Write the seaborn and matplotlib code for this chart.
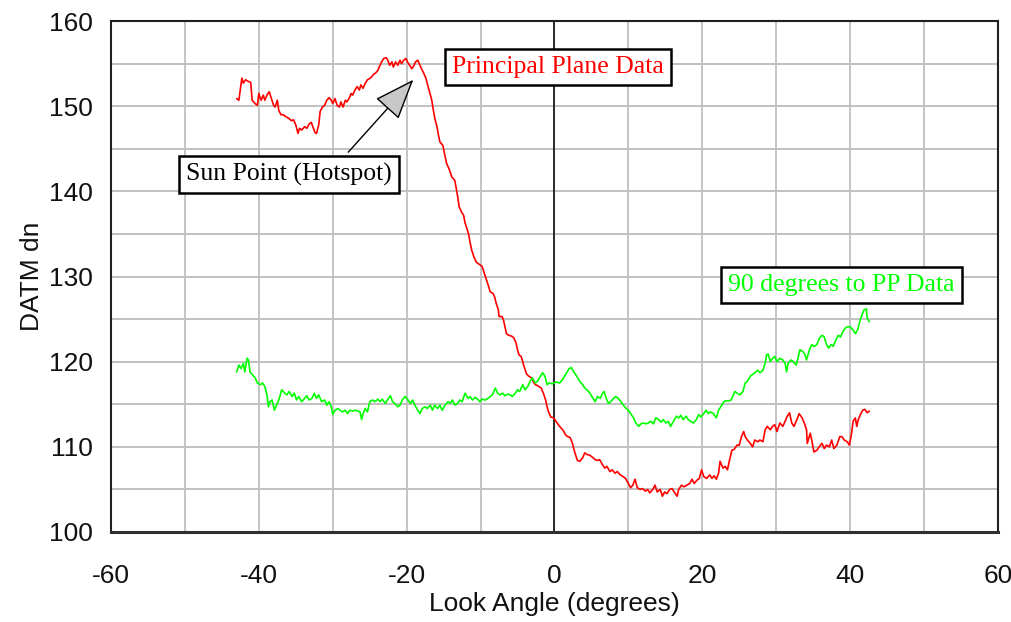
import matplotlib
matplotlib.use("Agg")
import matplotlib.pyplot as plt
import numpy as np
import pandas as pd
import seaborn as sns

# Principal plane scan (look angle in degrees, DATM dn)
pp_angle = [
    -43.0, -42.7, -42.3, -42.1, -41.8, -41.4, -41.1, -40.9, -40.5, -40.2,
    -40.0, -39.7, -39.4, -39.2, -38.9, -38.6, -38.3, -38.0, -37.8, -37.5,
    -37.3, -37.0, -36.7, -36.4, -36.0, -35.6, -35.3, -35.0, -34.7, -34.5,
    -34.2, -33.8, -33.5, -33.2, -32.9, -32.7, -32.4, -32.2, -31.9, -31.7,
    -31.4, -31.1, -30.8, -30.5, -30.2, -30.0, -29.7, -29.4, -29.1, -28.9,
    -28.6, -28.3, -28.1, -27.8, -27.5, -27.3, -27.0, -26.7, -26.4, -26.2,
    -25.9, -25.6, -25.3, -24.9, -24.5, -24.2, -23.9, -23.6, -23.4, -23.1,
    -22.8, -22.6, -22.3, -22.0, -21.8, -21.5, -21.2, -20.9, -20.7, -20.4,
    -20.1, -19.9, -19.6, -19.3, -19.0, -18.8, -18.5, -18.2, -18.0, -17.7,
    -17.4, -17.1, -16.6, -16.4, -16.2, -15.9, -15.7, -15.5, -15.1, -14.9,
    -14.6, -14.2, -13.9, -13.5, -13.3, -13.1, -12.9, -12.6, -12.3, -12.1,
    -11.8, -11.6, -11.4, -11.2, -10.9, -10.6, -10.3, -9.8, -9.5, -9.2,
    -8.9, -8.7, -8.3, -8.1, -7.9, -7.6, -7.5, -7.1, -6.9, -6.7,
    -6.5, -6.2, -5.8, -5.5, -5.2, -5.0, -4.8, -4.5, -4.3, -4.1,
    -3.8, -3.5, -3.1, -2.9, -2.6, -2.3, -1.8, -1.5, -1.2, -1.0,
    -0.8, -0.5, -0.1, 0.2, 0.6, 0.9, 1.2, 1.5, 1.8, 2.1,
    2.4, 2.6, 2.8, 3.1, 3.4, 3.8, 4.1, 4.4, 4.8, 5.1,
    5.5, 5.8, 6.1, 6.5, 6.8, 7.1, 7.5, 7.8, 8.2, 8.5,
    8.9, 9.3, 9.6, 10.0, 10.3, 10.6, 10.9, 11.2, 11.6, 11.9,
    12.3, 12.6, 12.9, 13.3, 13.6, 13.9, 14.3, 14.6, 14.9, 15.2,
    15.6, 15.9, 16.2, 16.6, 16.8, 17.2, 17.5, 17.9, 18.3, 18.6,
    18.9, 19.3, 19.6, 19.9, 20.2, 20.6, 21.0, 21.3, 21.6, 21.9,
    22.2, 22.4, 22.8, 23.1, 23.4, 23.7, 24.0, 24.3, 24.7, 25.0,
    25.3, 25.6, 25.8, 26.1, 26.5, 26.8, 27.1, 27.5, 27.8, 28.2,
    28.5, 28.8, 29.2, 29.5, 29.8, 30.1, 30.5, 30.9, 31.2, 31.5,
    31.8, 32.1, 32.4, 32.8, 33.1, 33.5, 33.8, 34.1, 34.2, 34.6,
    34.8, 35.1, 35.5, 35.8, 36.2, 36.5, 36.8, 37.2, 37.5, 37.8,
    38.2, 38.6, 38.9, 39.2, 39.6, 39.9, 40.2, 40.4, 40.7, 40.9,
    41.1, 41.4, 41.7, 42.0, 42.3, 42.6,
]
pp_dn = [
    150.9, 150.7, 153.3, 152.7, 153.1, 152.9, 152.8, 150.7, 150.3, 150.1,
    151.5, 150.7, 151.3, 150.7, 151.3, 151.7, 150.9, 150.1, 149.9, 150.7,
    149.5, 149.0, 149.0, 148.8, 148.6, 148.3, 148.4, 147.8, 146.8, 147.4,
    147.2, 147.6, 147.4, 147.9, 148.1, 147.6, 146.9, 146.8, 147.8, 149.4,
    149.9, 150.1, 150.7, 151.0, 150.7, 150.3, 150.9, 150.1, 149.9, 150.5,
    149.9, 150.7, 150.5, 150.9, 151.5, 151.3, 151.9, 152.3, 151.9, 152.5,
    152.1, 152.7, 153.1, 153.3, 153.7, 153.9, 154.2, 154.8, 155.2, 155.6,
    155.7, 155.5, 154.8, 155.2, 154.6, 155.2, 154.8, 155.4, 155.0, 155.4,
    155.6, 155.2, 154.8, 154.4, 154.8, 155.2, 155.4, 154.8, 154.4, 153.9,
    153.3, 152.3, 150.7, 149.6, 148.6, 147.6, 146.6, 145.8, 145.4, 144.5,
    143.3, 142.5, 141.7, 141.3, 140.4, 139.4, 138.2, 137.6, 137.2, 136.3,
    135.5, 134.9, 133.9, 133.1, 132.3, 131.7, 131.5, 131.2, 130.4, 129.6,
    128.8, 128.2, 128.0, 127.6, 126.9, 126.1, 125.3, 125.3, 124.9, 124.1,
    123.3, 123.1, 123.0, 122.8, 122.2, 121.4, 120.8, 120.6, 120.0, 119.4,
    118.6, 118.3, 118.1, 117.7, 117.3, 117.2, 116.9, 116.3, 115.5, 114.7,
    114.1, 113.5, 113.4, 113.0, 112.5, 112.2, 111.9, 111.4, 111.2, 111.1,
    110.5, 109.8, 109.2, 108.4, 108.3, 108.7, 109.3, 109.1, 109.0, 108.8,
    108.5, 108.4, 108.5, 107.9, 107.5, 107.7, 107.1, 107.3, 106.9, 107.1,
    106.7, 106.5, 106.3, 105.7, 105.2, 105.5, 106.2, 105.2, 105.0, 105.1,
    104.8, 105.0, 104.6, 105.0, 105.5, 104.7, 105.0, 104.2, 104.7, 104.5,
    105.0, 105.1, 104.7, 104.2, 105.0, 105.5, 105.3, 105.5, 105.7, 106.2,
    105.7, 106.1, 106.3, 107.3, 106.5, 106.3, 106.7, 106.3, 106.6, 106.2,
    106.9, 108.3, 107.5, 107.7, 107.3, 108.5, 109.6, 109.7, 110.2, 110.2,
    111.2, 111.8, 111.2, 110.8, 110.4, 110.0, 110.8, 110.6, 110.8, 110.6,
    112.0, 112.4, 112.0, 112.4, 112.6, 111.8, 112.8, 112.4, 113.0, 113.6,
    114.0, 112.8, 112.4, 113.2, 113.9, 113.4, 112.8, 112.0, 110.4, 111.6,
    110.8, 109.4, 109.6, 110.0, 110.4, 109.8, 110.2, 110.0, 110.8, 109.8,
    110.2, 111.2, 111.2, 110.8, 110.6, 110.2, 111.6, 113.0, 113.4, 112.4,
    113.2, 113.8, 114.3, 114.4, 114.0, 114.2,
]

# Scan at 90 degrees to the principal plane
cross_angle = [
    -43.0, -42.7, -42.4, -42.1, -41.9, -41.6, -41.4, -41.2, -40.9, -40.5,
    -40.2, -39.8, -39.5, -39.2, -38.9, -38.7, -38.5, -38.2, -37.9, -37.6,
    -37.3, -36.9, -36.5, -36.2, -35.9, -35.5, -35.2, -34.9, -34.6, -34.2,
    -33.8, -33.5, -33.2, -32.8, -32.5, -32.2, -31.9, -31.5, -31.1, -30.8,
    -30.5, -30.2, -30.0, -29.7, -29.3, -29.0, -28.7, -28.3, -28.0, -27.7,
    -27.3, -27.0, -26.6, -26.3, -26.1, -25.9, -25.6, -25.3, -25.0, -24.6,
    -24.3, -23.9, -23.6, -23.3, -22.9, -22.6, -22.2, -21.9, -21.6, -21.2,
    -20.9, -20.6, -20.2, -19.9, -19.5, -19.2, -18.9, -18.5, -18.2, -17.9,
    -17.5, -17.2, -16.8, -16.5, -16.2, -15.8, -15.5, -15.2, -14.8, -14.4,
    -14.1, -13.8, -13.5, -13.1, -12.8, -12.5, -12.1, -11.7, -11.4, -11.1,
    -10.7, -10.4, -10.1, -9.8, -9.4, -9.0, -8.7, -8.4, -8.0, -7.7,
    -7.4, -7.0, -6.7, -6.3, -6.0, -5.7, -5.3, -5.0, -4.7, -4.3,
    -4.0, -3.6, -3.3, -3.0, -2.6, -2.3, -1.9, -1.6, -1.3, -1.0,
    -0.7, -0.3, 0.2, 0.7, 1.1, 1.5, 2.0, 2.3, 2.6, 3.0,
    3.4, 3.8, 4.1, 4.4, 4.8, 5.2, 5.5, 5.8, 6.2, 6.5,
    6.7, 7.0, 7.3, 7.6, 8.0, 8.3, 8.6, 9.0, 9.3, 9.7,
    10.0, 10.3, 10.7, 11.0, 11.4, 11.7, 12.0, 12.4, 12.7, 13.0,
    13.4, 13.7, 14.1, 14.4, 14.7, 15.1, 15.4, 15.7, 16.1, 16.5,
    16.8, 17.1, 17.4, 17.8, 18.1, 18.4, 18.8, 19.2, 19.5, 19.8,
    20.2, 20.5, 20.8, 21.1, 21.5, 21.9, 22.2, 22.5, 22.9, 23.2,
    23.6, 23.9, 24.2, 24.4, 24.7, 25.1, 25.5, 25.8, 26.1, 26.5,
    26.8, 27.1, 27.5, 27.8, 28.2, 28.5, 28.7, 28.9, 29.2, 29.5,
    29.8, 30.1, 30.5, 30.9, 31.2, 31.4, 31.6, 32.0, 32.3, 32.7,
    33.0, 33.2, 33.6, 33.9, 34.1, 34.5, 34.8, 35.1, 35.5, 35.8,
    36.2, 36.5, 36.8, 37.1, 37.4, 37.7, 38.1, 38.4, 38.7, 39.0,
    39.3, 39.6, 40.0, 40.4, 40.7, 41.0, 41.3, 41.6, 41.9, 42.2,
    42.3, 42.6,
]
cross_dn = [
    118.8, 119.6, 119.2, 119.8, 118.8, 120.4, 120.2, 118.8, 118.5, 118.1,
    117.5, 117.3, 117.5, 117.1, 116.1, 114.7, 115.3, 115.5, 114.3, 114.9,
    115.5, 116.7, 116.3, 116.1, 116.5, 115.9, 116.3, 115.5, 115.9, 115.3,
    115.7, 116.0, 115.5, 115.7, 116.3, 115.7, 116.1, 115.3, 115.5, 114.9,
    115.3, 114.7, 113.8, 114.3, 114.5, 114.3, 114.1, 114.3, 113.9, 114.3,
    114.2, 114.3, 114.2, 114.1, 113.2, 113.9, 114.5, 114.1, 115.3, 115.5,
    115.3, 115.6, 115.3, 115.6, 115.1, 115.5, 116.0, 115.3, 115.1, 114.7,
    114.9, 115.5, 115.9, 115.6, 115.1, 115.5, 114.9, 114.3, 113.9, 114.5,
    114.7, 114.5, 114.9, 114.3, 114.9, 114.5, 114.9, 114.3, 114.9, 115.3,
    115.1, 115.5, 114.9, 115.1, 115.5, 115.3, 116.3, 115.7, 115.9, 115.5,
    115.8, 115.6, 115.3, 115.6, 115.5, 115.7, 115.9, 116.1, 116.9, 116.3,
    116.1, 116.3, 116.0, 116.2, 116.1, 115.9, 116.3, 116.7, 116.5, 117.3,
    116.7, 117.1, 117.7, 118.1, 117.5, 117.7, 118.3, 118.7, 118.3, 117.3,
    117.5, 117.4, 117.6, 117.5, 117.9, 118.5, 119.2, 119.3, 118.8, 118.3,
    117.7, 117.3, 116.9, 116.7, 116.3, 115.7, 115.3, 115.9, 115.7, 116.3,
    116.5, 115.7, 115.1, 115.3, 115.7, 115.9, 115.7, 115.3, 114.9, 114.5,
    114.3, 113.9, 113.4, 112.8, 112.4, 112.7, 112.8, 112.7, 112.8, 113.0,
    112.7, 113.4, 113.2, 112.9, 113.2, 112.8, 113.0, 112.4, 113.0, 113.6,
    113.4, 113.7, 113.2, 113.6, 113.2, 113.0, 112.8, 113.2, 113.8, 113.5,
    113.9, 114.3, 113.9, 114.1, 113.9, 113.4, 114.3, 114.7, 115.3, 115.4,
    115.4, 115.5, 116.1, 116.5, 116.3, 116.1, 116.5, 117.5, 117.7, 118.3,
    118.5, 118.7, 119.0, 118.7, 119.0, 119.8, 120.8, 120.9, 120.0, 120.4,
    120.6, 120.0, 120.4, 120.2, 119.8, 118.8, 119.8, 120.2, 120.0, 119.6,
    120.6, 121.4, 121.2, 120.8, 120.2, 121.4, 122.0, 121.8, 122.0, 122.7,
    123.1, 122.9, 122.0, 121.6, 122.0, 121.8, 122.6, 123.1, 122.9, 123.5,
    123.9, 124.1, 124.1, 123.7, 123.3, 123.7, 124.7, 125.5, 126.1, 126.2,
    125.1, 124.7,
]

x_major = [-60, -40, -20, 0, 20, 40, 60]
y_major = [100, 110, 120, 130, 140, 150, 160]

series_colors = {"Principal Plane Data": "#ff0000", "90 degrees to PP Data": "#00ff00"}

df = pd.concat([
    pd.DataFrame({"angle": pp_angle, "dn": pp_dn, "series": "Principal Plane Data"}),
    pd.DataFrame({"angle": cross_angle, "dn": cross_dn, "series": "90 degrees to PP Data"}),
], ignore_index=True)

sns.set_style("white")
plt.rcParams["font.family"] = ["Liberation Sans", "DejaVu Sans"]
plt.rcParams["axes.unicode_minus"] = False

fig = plt.figure(figsize=(10.11, 6.22), dpi=100)
ax = fig.add_axes([0.1098, 0.1447, 0.8773, 0.8215])

ax.set_xlim(-60, 60)
ax.set_ylim(100, 160)
ax.set_xticks(x_major)
ax.set_xticks(np.arange(-50, 60, 20), minor=True)
ax.set_yticks(y_major)
ax.set_yticks(np.arange(105, 160, 10), minor=True)

ax.grid(True, which="both", axis="x", color="#c4c4c4", lw=1.4)
ax.grid(True, which="both", axis="y", color="#c0c0c0", lw=1.4)
ax.set_axisbelow(True)
ax.axvline(0, color="black", lw=1.1, zorder=1.5)

sns.lineplot(data=df, x="angle", y="dn", hue="series", palette=series_colors,
             sort=False, estimator=None, legend=False, lw=1.2, ax=ax, zorder=3)

for side in ["top", "right", "left"]:
    ax.spines[side].set_color("#202020")
    ax.spines[side].set_linewidth(1.5)
ax.spines["bottom"].set_color("#303030")
ax.spines["bottom"].set_linewidth(2.2)

ax.tick_params(axis="both", which="both", direction="out", color="#a0a0a0",
               width=1.0, labelsize=19, labelcolor="#111111")
ax.tick_params(axis="x", which="both", length=6, pad=17)
ax.tick_params(axis="y", which="both", length=5, pad=8)

ax.set_xlabel("Look Angle (degrees)", fontsize=19, color="#111111")
ax.set_ylabel("DATM dn", fontsize=19, color="#111111")
ax.xaxis.set_label_coords(0.5, -0.118)
ax.yaxis.set_label_coords(-0.075, 0.5)

serif = ["Liberation Serif", "DejaVu Serif"]
box = dict(boxstyle="square,pad=0.28", fc="white", ec="black", lw=1.8)
ax.text(-13.9, 154.6, "Principal Plane Data", color="#ff0000", family=serif,
        fontsize=18.5, ha="left", va="center", bbox=box, zorder=5)
ax.text(23.5, 129.0, "90 degrees to PP Data", color="#00ff00", family=serif,
        fontsize=18.5, ha="left", va="center", bbox=box, zorder=5)
ax.text(-49.8, 142.0, "Sun Point (Hotspot)", color="black", family=serif,
        fontsize=18.5, ha="left", va="center", bbox=box, zorder=5)

ax.annotate("", xy=(-19.1, 153.1), xytext=(-27.9, 144.6),
            arrowprops=dict(arrowstyle="-|>,head_length=1.3,head_width=0.5",
                            mutation_scale=20, fc="#c8c8c8", ec="black", lw=1.0,
                            shrinkA=0, shrinkB=0),
            zorder=6)

fig.savefig("out.png", dpi=100)
